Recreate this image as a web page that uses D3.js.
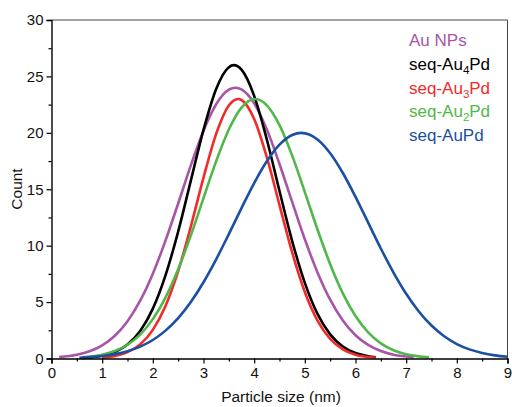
<!DOCTYPE html>
<html>
<head>
<meta charset="utf-8">
<script src="https://cdn.jsdelivr.net/npm/d3@7"></script>
<style>
  body { margin: 0; background: #fff; }
  text { font-family: "Liberation Sans", Arial, sans-serif; }
</style>
</head>
<body>
<script>
// Values: [particle size (nm), count]
const auNPs = [[0.15,0.12],[0.5,0.33],[0.75,0.64],[1,1.17],[1.25,2.02],[1.5,3.31],[1.75,5.13],[2,7.52],[2.25,10.45],[2.5,13.74],[2.75,17.11],[3,20.18],[3.25,22.53],[3.5,23.82],[3.63,24],[3.75,23.85],[4,22.61],[4.25,20.29],[4.5,17.24],[4.75,13.88],[5,10.57],[5.25,7.63],[5.5,5.21],[5.75,3.37],[6,2.06],[6.25,1.2],[6.5,0.66],[6.75,0.34],[7,0.17],[7.15,0.11]];
const au4Pd = [[0.6,0.05],[0.75,0.09],[1,0.24],[1.25,0.57],[1.5,1.23],[1.75,2.43],[2,4.42],[2.25,7.37],[2.5,11.25],[2.75,15.77],[3,20.27],[3.25,23.89],[3.5,25.82],[3.6,26],[3.75,25.6],[4,23.28],[4.25,19.41],[4.5,14.84],[4.75,10.41],[5,6.7],[5.25,3.95],[5.5,2.14],[5.75,1.06],[6,0.48],[6.25,0.2],[6.4,0.11]];
const au3Pd = [[1,0.08],[1.25,0.23],[1.5,0.56],[1.75,1.25],[2,2.54],[2.25,4.66],[2.5,7.75],[2.75,11.7],[3,16.03],[3.25,19.91],[3.5,22.42],[3.68,23],[3.75,22.91],[4,21.23],[4.25,17.84],[4.5,13.6],[4.75,9.4],[5,5.89],[5.25,3.35],[5.5,1.73],[5.75,0.81],[6,0.34],[6.25,0.13],[6.4,0.07]];
const au2Pd = [[0.6,0.1],[0.75,0.16],[1,0.34],[1.25,0.66],[1.5,1.22],[1.75,2.12],[2,3.49],[2.25,5.4],[2.5,7.9],[2.75,10.91],[3,14.22],[3.25,17.49],[3.5,20.3],[3.75,22.24],[4.02,23],[4.25,22.44],[4.5,20.68],[4.75,17.98],[5,14.75],[5.25,11.43],[5.5,8.36],[5.75,5.77],[6,3.76],[6.25,2.31],[6.5,1.34],[6.75,0.73],[7,0.38],[7.25,0.19],[7.45,0.1]];
const auPd = [[0.55,0.07],[0.75,0.12],[1,0.22],[1.25,0.39],[1.5,0.65],[1.75,1.05],[2,1.64],[2.25,2.47],[2.5,3.58],[2.75,5.01],[3,6.76],[3.25,8.79],[3.5,11.02],[3.75,13.33],[4,15.55],[4.25,17.48],[4.5,18.95],[4.75,19.81],[4.93,20],[5.25,19.41],[5.5,18.19],[5.75,16.44],[6,14.33],[6.25,12.04],[6.5,9.75],[6.75,7.62],[7,5.74],[7.25,4.17],[7.5,2.92],[7.75,1.97],[8,1.28],[8.25,0.81],[8.5,0.49],[8.75,0.28],[9,0.16]];

const xTicks = [0, 1, 2, 3, 4, 5, 6, 7, 8, 9];
const yTicks = [0, 5, 10, 15, 20, 25, 30];

// legend: main text, subscript, tail
const series = [
  { data: auNPs, color: "#a855a8", label: ["Au NPs", "", ""] },
  { data: au4Pd, color: "#000000", label: ["seq-Au", "4", "Pd"] },
  { data: au3Pd, color: "#f42a2a", label: ["seq-Au", "3", "Pd"] },
  { data: au2Pd, color: "#50b848", label: ["seq-Au", "2", "Pd"] },
  { data: auPd,  color: "#1b4fa3", label: ["seq-AuPd", "", ""] }
];

const svg = d3.select("body").append("svg")
    .attr("width", 512)
    .attr("height", 407);

const x = d3.scaleLinear().domain([0, 9]).range([51.5, 507.5]);
const y = d3.scaleLinear().domain([0, 30]).range([358.5, 20]);

// frame (top and right)
svg.append("path")
    .attr("d", `M${x(0)},${y(30)}H${x(9)}V${y(0)}`)
    .attr("fill", "none")
    .attr("stroke", "#444")
    .attr("stroke-width", 1);

// curves
const line = d3.line()
    .x(d => x(d[0]))
    .y(d => y(d[1]))
    .curve(d3.curveMonotoneX);

svg.append("g").selectAll("path")
    .data(series)
    .enter().append("path")
    .attr("d", d => line(d.data))
    .attr("fill", "none")
    .attr("stroke", d => d.color)
    .attr("stroke-width", 2.6);

// axes
const xAxis = svg.append("g")
    .attr("transform", `translate(0,${y(0)})`)
    .call(d3.axisBottom(x).tickValues(xTicks).tickFormat(d3.format("d")).tickSize(5).tickPadding(4));
xAxis.append("g")
    .call(d3.axisBottom(x).tickValues(d3.range(0.5, 9, 1)).tickFormat("").tickSize(3))
    .select(".domain").remove();

const yAxis = svg.append("g")
    .attr("transform", `translate(${x(0)},0)`)
    .call(d3.axisLeft(y).tickValues(yTicks).tickFormat(d3.format("d")).tickSize(5).tickPadding(3));
yAxis.append("g")
    .call(d3.axisLeft(y).tickValues(d3.range(2.5, 30, 5)).tickFormat("").tickSize(3))
    .select(".domain").remove();

svg.selectAll(".domain").attr("stroke", "#000").attr("stroke-width", 1.4);
svg.selectAll(".tick line").attr("stroke", "#000").attr("stroke-width", 1.2);
svg.selectAll(".tick text")
    .attr("font-size", 15)
    .attr("fill", "#111")
    .style("font-family", "'Liberation Sans', Arial, sans-serif");

// axis titles
svg.append("text")
    .attr("x", 281)
    .attr("y", 402)
    .attr("text-anchor", "middle")
    .attr("font-size", 15.5)
    .attr("fill", "#111")
    .text("Particle size (nm)");

svg.append("text")
    .attr("transform", `translate(22,189) rotate(-90)`)
    .attr("text-anchor", "middle")
    .attr("font-size", 15.5)
    .attr("fill", "#111")
    .text("Count");

// legend
const legend = svg.append("g");
series.forEach((s, i) => {
    const t = legend.append("text")
        .attr("x", 409)
        .attr("y", 46 + i * 23.8)
        .attr("font-size", 17)
        .attr("fill", s.color);
    t.append("tspan").text(s.label[0]);
    if (s.label[1]) {
        t.append("tspan").attr("font-size", 11.5).attr("dy", 4).text(s.label[1]);
        t.append("tspan").attr("dy", -4).text(s.label[2]);
    }
});
</script>
</body>
</html>
